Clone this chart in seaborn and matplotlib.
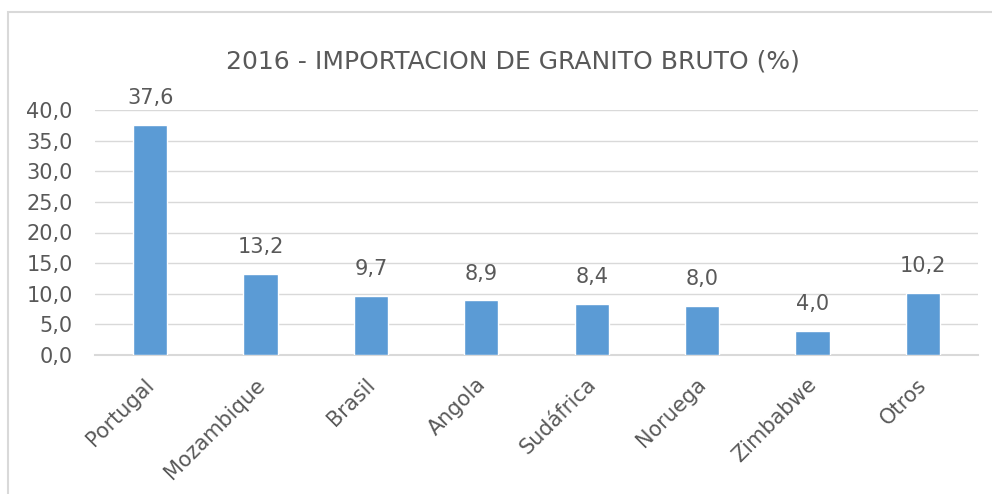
import matplotlib
matplotlib.use("Agg")
import matplotlib.pyplot as plt
import matplotlib.transforms as mtransforms
import seaborn as sns
import pandas as pd
from matplotlib.patches import Rectangle

categories = ["Portugal", "Mozambique", "Brasil", "Angola", "Sudáfrica", "Noruega", "Zimbabwe", "Otros"]
values = [37.6, 13.2, 9.7, 8.9, 8.4, 8.0, 4.0, 10.2]
yticks = [0, 5, 10, 15, 20, 25, 30, 35, 40]
title = "2016 - IMPORTACION DE GRANITO BRUTO (%)"

sns.set_style("white")
plt.rcParams['font.family'] = ['DejaVu Sans']
text_color = "#595959"
fs = 15

df = pd.DataFrame({"pais": categories, "valor": values})

fig = plt.figure(figsize=(9.92, 4.94), dpi=100)
ax = fig.add_axes([95/992, 1 - 355/494, (978-95)/992, (355-110)/494])

sns.barplot(data=df, x="pais", y="valor", color="#5B9BD5", saturation=1, width=0.31, ax=ax, zorder=3)
ax.set_ylim(0, 40)
ax.set_xlim(-0.5, len(categories) - 0.5)
ax.set_yticks(yticks)
ax.set_yticklabels([f"{v:.1f}".replace(".", ",") for v in yticks], fontsize=fs, color=text_color)
ax.set_xticks(range(len(categories)))
ax.set_xticklabels(categories, rotation=45, ha="right", rotation_mode="anchor", fontsize=fs, color=text_color)
ax.tick_params(axis="x", length=0, pad=14)
ax.tick_params(axis="y", length=0, pad=16)
offset = mtransforms.ScaledTranslation(-6/100, 0, fig.dpi_scale_trans)
for lbl in ax.get_xticklabels():
    lbl.set_transform(lbl.get_transform() + offset)
ax.set_xlabel("")
ax.set_ylabel("")
ax.grid(axis="y", color="#D9D9D9", linewidth=1, zorder=0)
for s in ["top", "right", "left"]:
    ax.spines[s].set_visible(False)
ax.spines["bottom"].set_color("#D9D9D9")
ax.spines["bottom"].set_linewidth(1.5)

for i, v in enumerate(values):
    ax.annotate(f"{v:.1f}".replace(".", ","), (i, v), xytext=(0, 12), textcoords="offset points",
                ha="center", va="bottom", fontsize=fs, color=text_color)

fig.text(0.5 * (228 + 797) / 992, 1 - 62/494, title, ha="center", va="center", fontsize=18, color=text_color)

fig.patches.append(Rectangle((8/992, -0.1), 1.1, 1 - 12/494 + 0.1, transform=fig.transFigure,
                             fill=False, edgecolor="#D9D9D9", linewidth=1.5))

fig.savefig("out.png", dpi=100)
